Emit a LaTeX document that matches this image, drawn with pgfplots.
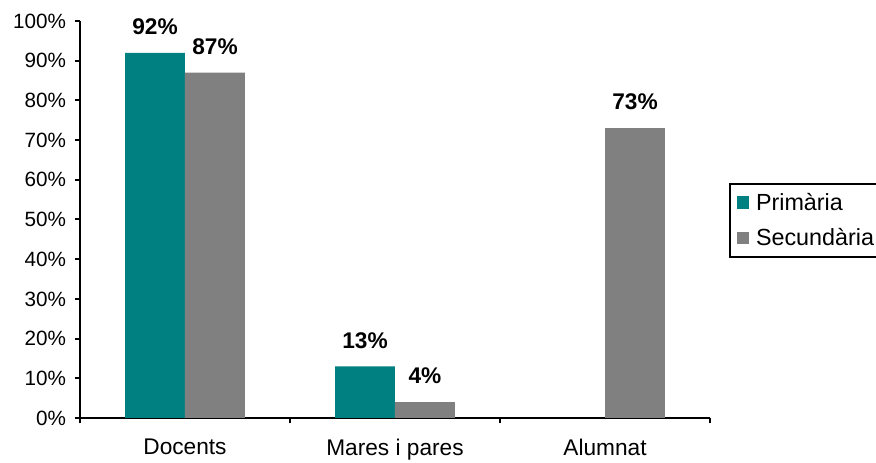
\documentclass[border=0pt]{standalone}
\usepackage{fontspec}
\setmainfont{Liberation Sans}
\usepackage{pgfplots}
\pgfplotsset{compat=1.18}
\definecolor{prim}{HTML}{008080}
\definecolor{secu}{HTML}{808080}

\begin{document}
\begin{tikzpicture}
  % page frame: 876 x 463 px, 1px = 0.75pt, axis box at (80,21)-(710,418)
  \path[use as bounding box] (-60pt,-33.75pt) rectangle (597pt,313.5pt);
  \begin{axis}[
    at={(0,0)}, anchor=south west,
    scale only axis,
    width=472.5pt, height=297.75pt,
    ybar=0pt,
    bar width=0.2857,
    xmin=-0.5, xmax=2.5,
    ymin=0, ymax=100,
    axis lines*=left,
    axis line style={line width=1.5pt},
    tick align=outside,
    tick pos=left,
    major tick length=4pt,
    tick style={line width=1.5pt, black},
    xtick={-0.5,0.5,1.5,2.5},
    x tick label as interval,
    xticklabels={Docents, Mares i pares, Alumnat},
    x tick label style={font=\fontsize{17}{19}\selectfont, yshift=-8pt},
    ytick={0,10,...,100},
    yticklabel={\pgfmathprintnumber{\tick}\%},
    y tick label style={font=\fontsize{15.5}{17}\selectfont, xshift=-3pt},
    /pgf/number format/assume math mode=true,
    nodes near coords={\pgfmathprintnumber{\pgfplotspointmeta}\%},
    every node near coord/.append style={font=\fontsize{17}{19}\selectfont\bfseries,
      anchor=south, yshift=10pt, black},
    legend style={at={(1.030,0.592)}, anchor=north west, draw=black,
      line width=1.5pt, font=\fontsize{17.5}{19}\selectfont,
      row sep=8pt, inner xsep=5pt, inner ysep=5pt,
      nodes={inner xsep=5pt}},
    legend cell align=left,
    legend image code/.code={\fill[#1] (0pt,-4.8pt) rectangle (9.6pt,4.8pt);},
  ]
    \addplot[fill=prim, draw=none] coordinates {(0,92) (1,13)};
    \addplot[fill=secu, draw=none] coordinates {(0,87) (1,4) (2,73)};
    \legend{Primària, Secundària}
  \end{axis}
\end{tikzpicture}
\end{document}
